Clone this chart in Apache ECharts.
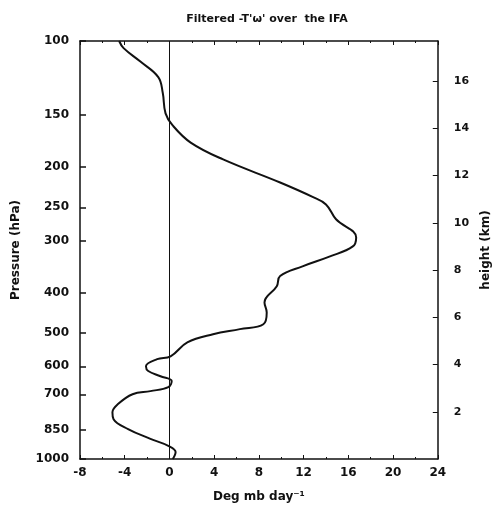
<!DOCTYPE html>
<html>
<head>
<meta charset="utf-8">
<script src="https://cdn.jsdelivr.net/npm/echarts@6/dist/echarts.min.js"></script>
<style>html,body{margin:0;padding:0;background:#fff}#c{width:500px;height:508px}</style>
</head>
<body>
<div id="c"></div>
<script>
// Heating values (Deg mb day^-1) and pressure levels (hPa)
var heating = [-4.5, -4.1, -2.6, -1.0, -0.6, -0.35, 0.27, 1.9, 4.8, 9.9, 12.8, 14.0, 14.9, 16.7, 16.4, 14.3, 11.9, 9.9, 9.6, 8.5, 8.7, 8.4, 6.3, 3.9, 1.6, 0.1, -1.1, -2.1, -1.9, -0.8, 0.2, -0.1, -1.7, -3.3, -4.6, -5.1, -5.0, -3.7, -1.7, -0.1, 0.55, 0.3];
var pressure = [100, 104, 112, 122, 133, 149, 159, 175, 192, 218, 236, 246, 267, 295, 310, 328, 346, 365, 386, 422, 446, 476, 489, 503, 526, 568, 577, 600, 616, 634, 651, 673, 688, 700, 739, 773, 803, 848, 895, 930, 962, 1000];
var pressureTicks = [100, 150, 200, 250, 300, 400, 500, 600, 700, 850, 1000];
var heightTicks = [2, 4, 6, 8, 10, 12, 14, 16];
var xTicks = [-8, -4, 0, 4, 8, 12, 16, 20, 24];

var points = heating.map(function (v, i) { return [v, pressure[i]]; });
var font = 'DejaVu Sans';
var chart = echarts.init(document.getElementById('c'));
chart.setOption({
  animation: false,
  backgroundColor: '#fff',
  title: {
    text: "Filtered -T'\u03c9' over  the IFA",
    left: 262, top: 9, textAlign: 'center',
    textStyle: { fontFamily: font, fontSize: 11, fontWeight: 'bold', color: '#111' }
  },
  grid: { left: 80, right: 59, top: 41, bottom: 48 },
  xAxis: [{
    type: 'value', min: -8, max: 24, interval: 4,
    name: 'Deg mb day\u207b\u00b9', nameLocation: 'middle', nameGap: 32,
    nameTextStyle: { fontFamily: font, fontSize: 12, fontWeight: 'bold', color: '#111' },
    axisLine: { show: true, onZero: false, lineStyle: { color: '#111', width: 1.5 } },
    axisTick: { show: true, inside: true, length: 4, lineStyle: { color: '#111' } },
    minorTick: { show: true, splitNumber: 2, length: 2, lineStyle: { color: '#111' } },
    axisLabel: { fontFamily: font, fontSize: 12, fontWeight: 'bold', color: '#111', margin: 8,
      formatter: function (v) { return String(v); } },
    splitLine: { show: false }
  }, {
    type: 'value', min: -8, max: 24, interval: 4, position: 'top',
    axisLine: { show: true, onZero: false, lineStyle: { color: '#111', width: 1.5 } },
    axisTick: { show: true, inside: true, length: 4, lineStyle: { color: '#111' } },
    minorTick: { show: true, splitNumber: 2, length: 2, lineStyle: { color: '#111' } },
    axisLabel: { show: false },
    splitLine: { show: false }
  }],
  yAxis: [{
    type: 'log', min: 100, max: 1000, inverse: true, logBase: 10,
    name: 'Pressure (hPa)', nameLocation: 'middle', nameGap: 58,
    nameTextStyle: { fontFamily: font, fontSize: 12, fontWeight: 'bold', color: '#111' },
    axisLine: { show: true, onZero: false, lineStyle: { color: '#111', width: 1.5 } },
    axisTick: { show: true, inside: true, length: 6, customValues: pressureTicks, lineStyle: { color: '#111', width: 1.5 } },
    axisLabel: { fontFamily: font, fontSize: 12, fontWeight: 'bold', color: '#111', margin: 11, customValues: pressureTicks,
      formatter: function (v) { return String(Math.round(v)); } },
    splitLine: { show: false }
  }, {
    type: 'value', min: 0, max: 17.7, position: 'right',
    name: 'height (km)', nameLocation: 'middle', nameGap: 40, nameRotate: 90,
    nameTextStyle: { fontFamily: font, fontSize: 12, fontWeight: 'bold', color: '#111' },
    axisLine: { show: true, onZero: false, lineStyle: { color: '#111', width: 1.5 } },
    axisTick: { show: true, inside: true, length: 5, customValues: heightTicks, lineStyle: { color: '#111' } },
    axisLabel: { fontFamily: font, fontSize: 11, fontWeight: 'bold', color: '#111', margin: 16, customValues: heightTicks },
    splitLine: { show: false }
  }],
  series: [{
    type: 'line', xAxisIndex: 0, yAxisIndex: 0,
    data: points, smooth: 0.4, showSymbol: false, symbol: 'none',
    lineStyle: { color: '#111', width: 2 },
    markLine: {
      silent: true, symbol: 'none', label: { show: false },
      lineStyle: { color: '#111', width: 1, type: 'solid' },
      data: [{ xAxis: 0 }]
    }
  }]
});
</script>
</body>
</html>
